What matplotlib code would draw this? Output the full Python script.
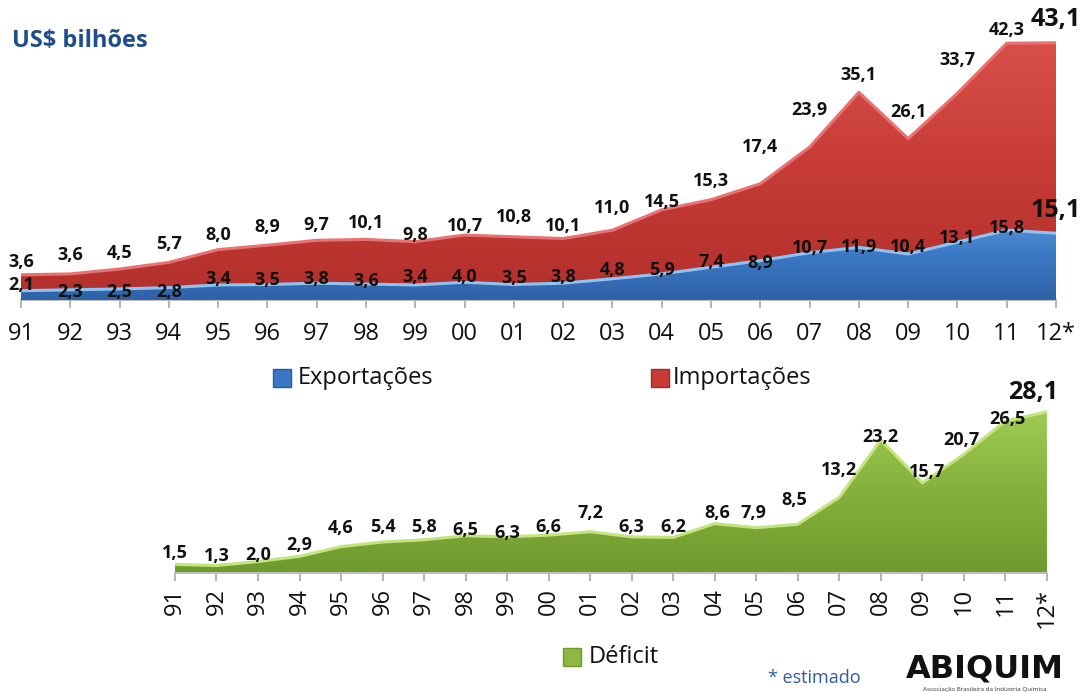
import numpy as np
import matplotlib.pyplot as plt
from matplotlib.colors import LinearSegmentedColormap
from matplotlib.patches import Rectangle

# dados (US$ bilhões)
anos = ['91', '92', '93', '94', '95', '96', '97', '98', '99', '00', '01',
        '02', '03', '04', '05', '06', '07', '08', '09', '10', '11', '12*']
exportacoes = [2.1, 2.3, 2.5, 2.8, 3.4, 3.5, 3.8, 3.6, 3.4, 4.0, 3.5,
               3.8, 4.8, 5.9, 7.4, 8.9, 10.7, 11.9, 10.4, 13.1, 15.8, 15.1]
importacoes = [3.6, 3.6, 4.5, 5.7, 8.0, 8.9, 9.7, 10.1, 9.8, 10.7, 10.8,
               10.1, 11.0, 14.5, 15.3, 17.4, 23.9, 35.1, 26.1, 33.7, 42.3, 43.1]
deficit = [1.5, 1.3, 2.0, 2.9, 4.6, 5.4, 5.8, 6.5, 6.3, 6.6, 7.2,
           6.3, 6.2, 8.6, 7.9, 8.5, 13.2, 23.2, 15.7, 20.7, 26.5, 28.1]

# deslocamento dos rótulos (pixels acima do topo da área)
dy_imp = [13, 19, 16, 18, 15, 18, 15, 16, 7, 9, 20, 13, 22, 8, 19, 37, 37, 17, 27, 33, 13, 23]
dy_exp = [6, -2, -3, -4, 6, 5, 4, 3, 8, 5, 7, 6, 9, 4, 5, -2, 5, 0, 7, 4, 2, 23]
dy_def = [11, 10, 7, 11, 19, 15, 13, 6, 4, 8, 19, 10, 10, 11, 15, 24, 27, 3, 11, 14, 2, 19]
dx_def = [0] * 13 + [3, -3, -4, 0, 0, 5, -2, 2, -14]

plt.rcParams['font.family'] = ['Open Sans', 'DejaVu Sans']
PX = 0.72  # pontos por pixel

fig = plt.figure(figsize=(10.82, 6.92), dpi=100)


def area_gradiente(ax, x, y0, y1, cores, ytop, borda, z):
    poly = ax.fill_between(x, y0, y1, facecolor='none', edgecolor='none', zorder=z)
    cmap = LinearSegmentedColormap.from_list('g', cores)
    grad = np.linspace(0, 1, 256).reshape(-1, 1)
    im = ax.imshow(grad, cmap=cmap, origin='lower', aspect='auto',
                   extent=[x[0], x[-1], 0, ytop], zorder=z, interpolation='bicubic')
    im.set_clip_path(poly.get_paths()[0], transform=ax.transData)
    ax.plot(x, y1, color=borda, lw=2.2, zorder=z + 1, solid_joinstyle='round')


def rotulo(ax, x, y, v, dy, dx=0, grande=False):
    ax.annotate(f'{v:.1f}'.replace('.', ','), xy=(x, y), xytext=(dx * PX, dy * PX),
                textcoords='offset points', ha='center', va='center',
                fontsize=18 if grande else 13, fontweight='bold', color='#111111', zorder=10)


def eixo(ax, ymax, rot):
    ax.set_xlim(0, len(anos) - 1)
    ax.set_ylim(0, ymax)
    ax.set_yticks([])
    ax.set_xticks(range(len(anos)))
    ax.set_xticklabels(anos, rotation=rot)
    ax.tick_params(axis='x', length=6, width=1.2, color='#A6A6A6',
                   labelsize=17, pad=10 if rot == 0 else 5, labelcolor='#111111')
    for s in ['left', 'top', 'right']:
        ax.spines[s].set_visible(False)
    ax.spines['bottom'].set_color('#BFBFBF')
    ax.spines['bottom'].set_linewidth(1.5)


x = np.arange(len(anos))
exp = np.array(exportacoes)
imp_topo = exp + np.array(importacoes)
n = len(anos)

# gráfico de cima
ax1 = fig.add_axes([0.0194, 0.5665, 0.9566, 0.380])
ymax1 = 59.5
area_gradiente(ax1, x, exp, imp_topo, ['#B3302C', '#C63B36', '#D9504B'], ymax1, '#E87272', 2)
area_gradiente(ax1, x, 0, exp, ['#2F62A8', '#3B78C4', '#5C97DC'], 20, '#8EC3F2', 4)
eixo(ax1, ymax1, 0)
for i in range(n):
    rotulo(ax1, x[i], imp_topo[i], importacoes[i], dy_imp[i], grande=(i == n - 1))
    rotulo(ax1, x[i], exp[i], exportacoes[i], dy_exp[i], grande=(i == n - 1))

# gráfico de baixo
ax2 = fig.add_axes([0.1617, 0.172, 0.8059, 0.2486])
ymax2 = 30.0
area_gradiente(ax2, x, 0, np.array(deficit), ['#6F9A2E', '#86B33E', '#A3CD55'], ymax2, '#C3E47E', 2)
eixo(ax2, ymax2, 90)
for i in range(n):
    rotulo(ax2, x[i], deficit[i], deficit[i], dy_def[i], dx_def[i], grande=(i == n - 1))

# textos e legendas
W, H = 1082, 692


def quadrado(xp, yp, cor, borda):
    fig.add_artist(Rectangle((xp / W, 1 - (yp + 18) / H), 18 / W, 18 / H,
                             facecolor=cor, edgecolor=borda, lw=1, transform=fig.transFigure))


fig.text(12 / W, 1 - 41 / H, 'US$ bilhões', fontsize=17, fontweight='bold',
         color='#1F4E8C', va='center', ha='left')

quadrado(273, 369, '#3B78C4', '#2A5C9E')
fig.text(298 / W, 1 - 378 / H, 'Exportações', fontsize=17, va='center', ha='left', color='#111111')
quadrado(651, 369, '#C63B36', '#9E2C28')
fig.text(673 / W, 1 - 378 / H, 'Importações', fontsize=17, va='center', ha='left', color='#111111')

quadrado(563, 648, '#8DB844', '#6F9A2E')
fig.text(589 / W, 1 - 657 / H, 'Déficit', fontsize=17, va='center', ha='left', color='#111111')

fig.text(768 / W, 1 - 678 / H, '* estimado', fontsize=13, va='center', ha='left', color='#2F5C9E')

fig.text(985 / W, 1 - 669 / H, 'ABIQUIM', fontsize=23, fontweight='heavy', va='center', ha='center',
         color='#111111', family='DejaVu Sans')
fig.text(985 / W, 1 - 689 / H, 'Associação Brasileira da Indústria Química', fontsize=4.5,
         va='center', ha='center', color='#333333')

fig.savefig('out.png', dpi=100)
